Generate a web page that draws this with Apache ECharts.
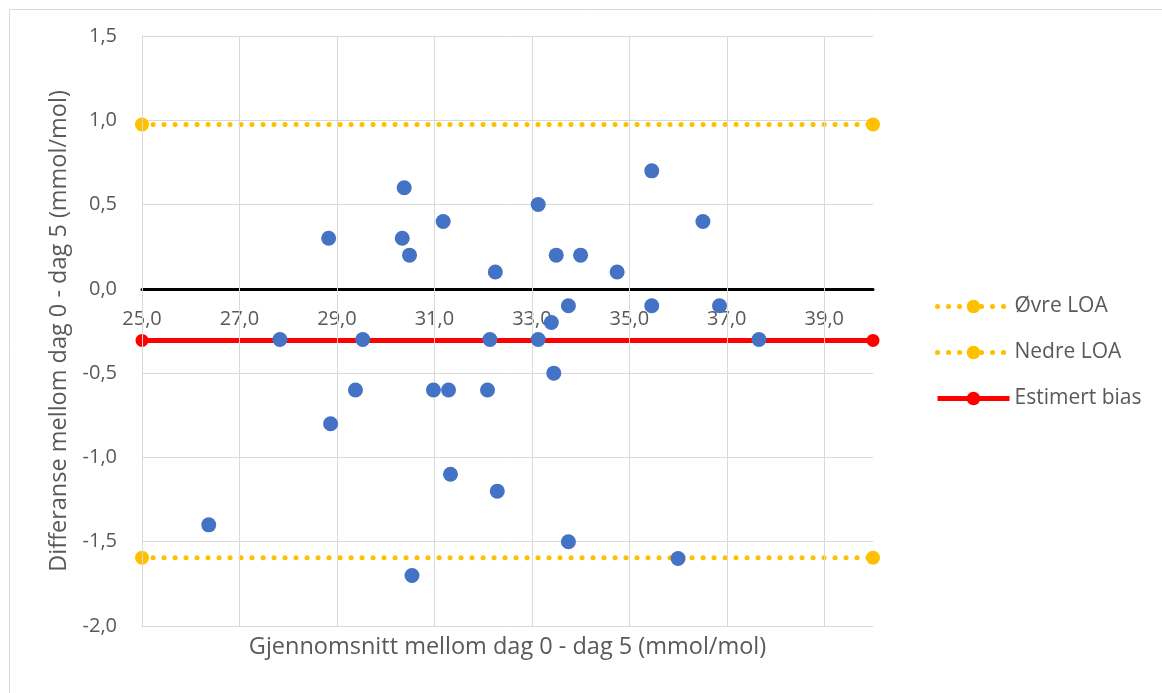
<!DOCTYPE html>
<html>
<head>
<meta charset="utf-8">
<script src="https://cdn.jsdelivr.net/npm/echarts@6/dist/echarts.min.js"></script>
<style>
html,body{margin:0;padding:0;background:#fff;}
#chart{width:1162px;height:693px;}
</style>
</head>
<body>
<div id="chart"></div>
<script>
// Data
const avgValues = [26.37,27.83,28.83,28.87,29.38,29.53,30.34,30.38,30.49,30.54,30.98,31.18,31.29,31.33,32.09,32.14,32.25,32.29,33.13,33.13,33.40,33.45,33.50,33.75,33.75,34.00,34.75,35.46,35.46,36.00,36.51,36.85,37.66];
const diffValues = [-1.4,-0.3,0.3,-0.8,-0.6,-0.3,0.3,0.6,0.2,-1.7,-0.6,0.4,-0.6,-1.1,-0.6,-0.3,0.1,-1.2,0.5,-0.3,-0.2,-0.5,0.2,-0.1,-1.5,0.2,0.1,0.7,-0.1,-1.6,0.4,-0.1,-0.3];
const lineX = [25, 40];
const upperLOA = 0.975;
const lowerLOA = -1.595;
const bias = -0.306;
const xTicks = [25,27,29,31,33,35,37,39];
const yMin = -2, yMax = 1.5;
const seriesNames = ['Øvre LOA','Nedre LOA','Estimert bias'];
const xTitle = 'Gjennomsnitt mellom dag 0 - dag 5 (mmol/mol)';
const yTitle = 'Differanse mellom dag 0 - dag 5 (mmol/mol)';

const FONT = 'Open Sans';
const TXT = '#595959';
const GRID = '#d9d9d9';
const YELLOW = '#FFC000';
const RED = '#FF0000';
const fmt = v => v.toFixed(1).replace('.', ',');
const dotted = { color: YELLOW, width: 5, type: [0.1, 10.9], cap: 'round' };

const chart = echarts.init(document.getElementById('chart'));
chart.setOption({
  animation: false,
  backgroundColor: '#fff',
  textStyle: { fontFamily: FONT },
  graphic: [{
    type: 'rect', left: 7, top: 7, silent: true,
    shape: { width: 1170, height: 700 },
    style: { fill: 'none', stroke: GRID, lineWidth: 1 }
  }, {
    type: 'text', x: 507.5, y: 647, silent: true,
    style: { text: xTitle, fill: TXT, font: '23.5px "Open Sans"', textAlign: 'center', textVerticalAlign: 'middle' }
  }],
  grid: { left: 142, right: 289, top: 36, bottom: 67 },
  legend: {
    orient: 'vertical', left: 930, top: 291,
    itemWidth: 72, itemHeight: 17, itemGap: 25,
    data: [
      { name: seriesNames[0], lineStyle: dotted },
      { name: seriesNames[1], lineStyle: dotted },
      { name: seriesNames[2], lineStyle: { color: RED, width: 5 } }
    ],
    textStyle: { fontFamily: FONT, fontSize: 21, color: TXT }
  },
  xAxis: {
    type: 'value', min: 25, max: 40, interval: 2, z: 3,
    axisLine: { show: true, onZero: false, lineStyle: { color: '#000', width: 3 } },
    axisTick: { show: false },
    splitLine: { show: false },
    axisLabel: { margin: 20, fontSize: 20, color: TXT, fontFamily: FONT, formatter: fmt, showMaxLabel: false }
  },
  yAxis: {
    type: 'value', min: yMin, max: yMax, interval: 0.5,
    axisLine: { show: true, onZero: false, lineStyle: { color: GRID, width: 1 } },
    axisTick: { show: false },
    splitLine: { show: true, lineStyle: { color: GRID, width: 1 } },
    axisLabel: { margin: 25, fontSize: 20, color: TXT, fontFamily: FONT, formatter: fmt },
    name: yTitle, nameLocation: 'middle', nameGap: 66,
    nameTextStyle: { fontSize: 23.5, color: TXT, fontFamily: FONT }
  },
  series: [
    {
      type: 'line', data: [], z: 1, silent: true,
      markLine: {
        silent: true, symbol: ['none', 'none'], label: { show: false },
        lineStyle: { color: GRID, type: 'solid', width: 1 },
        data: xTicks.map(v => ({ xAxis: v }))
      }
    },
    {
      name: seriesNames[0], type: 'line', z: 4,
      data: lineX.map(x => [x, upperLOA]),
      symbol: 'circle', symbolSize: 14,
      itemStyle: { color: YELLOW },
      lineStyle: dotted
    },
    {
      name: seriesNames[1], type: 'line', z: 4,
      data: lineX.map(x => [x, lowerLOA]),
      symbol: 'circle', symbolSize: 14,
      itemStyle: { color: YELLOW },
      lineStyle: dotted
    },
    {
      name: seriesNames[2], type: 'line', z: 4,
      data: lineX.map(x => [x, bias]),
      symbol: 'circle', symbolSize: 13,
      itemStyle: { color: RED },
      lineStyle: { color: RED, width: 5 }
    },
    {
      type: 'scatter', z: 6,
      data: avgValues.map((x, i) => [x, diffValues[i]]),
      symbol: 'circle', symbolSize: 15,
      itemStyle: { color: '#4472C4', opacity: 1 }
    }
  ]
});
// Move the x axis (line + labels) so it crosses the y axis at 0, using the library's own y scale
const yZero = chart.convertToPixel({ yAxisIndex: 0 }, 0);
const yBottom = chart.convertToPixel({ yAxisIndex: 0 }, yMin);
chart.setOption({ xAxis: { offset: yZero - yBottom } });
</script>
</body>
</html>
